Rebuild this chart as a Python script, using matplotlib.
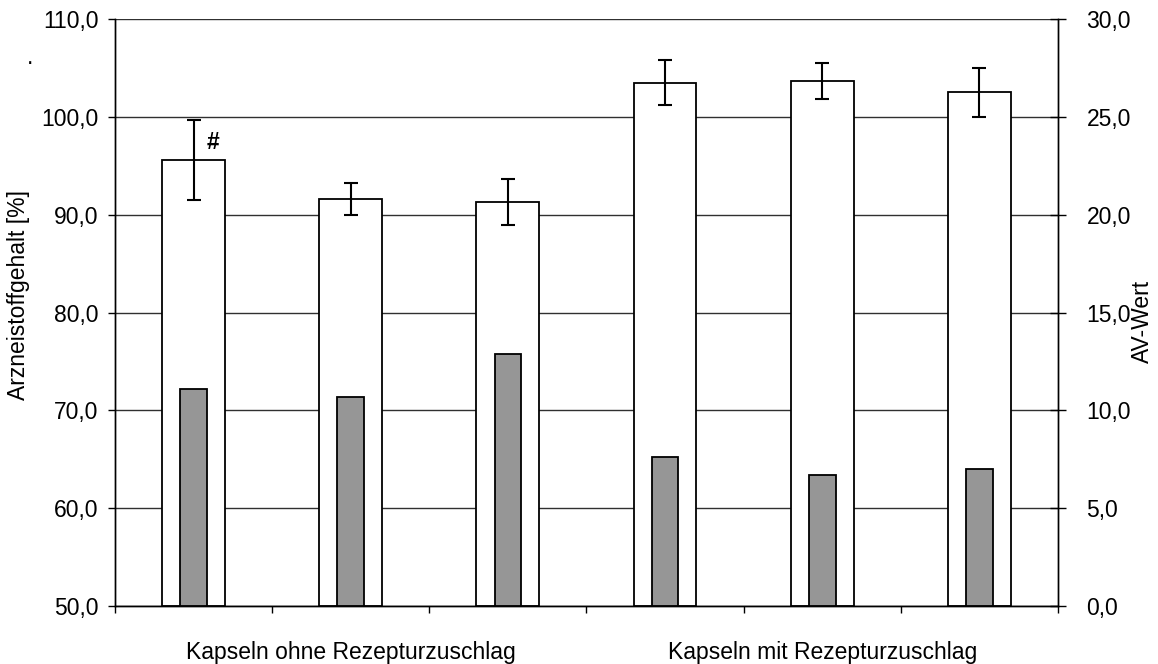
import numpy as np
import matplotlib
matplotlib.use("Agg")
import matplotlib.pyplot as plt
from matplotlib.ticker import FuncFormatter, FixedLocator

plt.rcParams['font.family'] = ['Liberation Sans', 'DejaVu Sans']

# Arzneistoffgehalt [%] (white bars, left axis) with standard deviation
gehalt = [95.6, 91.6, 91.3, 103.5, 103.7, 102.5]
gehalt_sd = [4.1, 1.6, 2.35, 2.3, 1.85, 2.5]
# AV-Wert (grey bars, right axis)
av_wert = [11.1, 10.7, 12.9, 7.6, 6.7, 7.0]
gruppen = ['Kapseln ohne Rezepturzuschlag', 'Kapseln mit Rezepturzuschlag']

x = np.arange(len(gehalt))
fs = 16.5

fig = plt.figure(figsize=(11.58, 6.64), dpi=100)
ax = fig.add_axes([0.0993, 0.0873, 0.8143, 0.8841])
ax2 = ax.twinx()

ax.set_axisbelow(True)
ax.yaxis.grid(True, color='#303030', linewidth=1.0)
ax.bar(x, np.array(gehalt) - 50, bottom=50, width=0.4, color='white',
       edgecolor='black', linewidth=1.3, zorder=2)
ax.errorbar(x, gehalt, yerr=gehalt_sd, fmt='none', ecolor='black',
            elinewidth=1.5, capsize=5, capthick=1.5, zorder=3)
ax.text(x[0] + 0.124, 97.4, '#', fontsize=fs, ha='center', va='center',
        fontweight='bold')

ax2.bar(x, av_wert, width=0.17, color='#969696', edgecolor='black',
        linewidth=1.3, zorder=2)

ax.set_xlim(-0.5, len(gehalt) - 0.5)
ax.set_ylim(50, 110)
ax2.set_ylim(0, 30)
ax.set_yticks(np.arange(50, 111, 10))
ax2.set_yticks(np.arange(0, 31, 5))

komma = FuncFormatter(lambda v, p: f'{v:.1f}'.replace('.', ','))
ax.yaxis.set_major_formatter(komma)
ax2.yaxis.set_major_formatter(komma)

# group boundaries as major ticks, group names as minor tick labels
ax.xaxis.set_major_locator(FixedLocator(np.arange(-0.5, len(gehalt), 1.0)))
ax.set_xticklabels([])
ax.xaxis.set_minor_locator(FixedLocator([1, 4]))
ax.set_xticklabels(gruppen, minor=True)
ax.tick_params(axis='x', which='major', direction='out', length=5, width=1)
ax.tick_params(axis='x', which='minor', length=0, pad=25, labelsize=fs)

ax.tick_params(axis='y', direction='out', length=5, width=1, pad=7,
               labelsize=fs)
ax2.tick_params(axis='y', direction='inout', length=11, width=1, pad=15,
                labelsize=fs)

for a in (ax, ax2):
    a.spines['top'].set_visible(False)
    for s in ('left', 'right', 'bottom'):
        a.spines[s].set_linewidth(1.0)

ax.set_ylabel('Arzneistoffgehalt [%]', fontsize=fs)
ax.yaxis.set_label_coords(-0.090, 0.53)
ax2.set_ylabel('AV-Wert', fontsize=fs)
ax2.yaxis.set_label_coords(1.077, 0.484)
fig.text(30 / 1158, 1 - 64 / 664, '.', fontsize=fs, ha='center',
         va='baseline')

fig.savefig('out.png', dpi=100)
